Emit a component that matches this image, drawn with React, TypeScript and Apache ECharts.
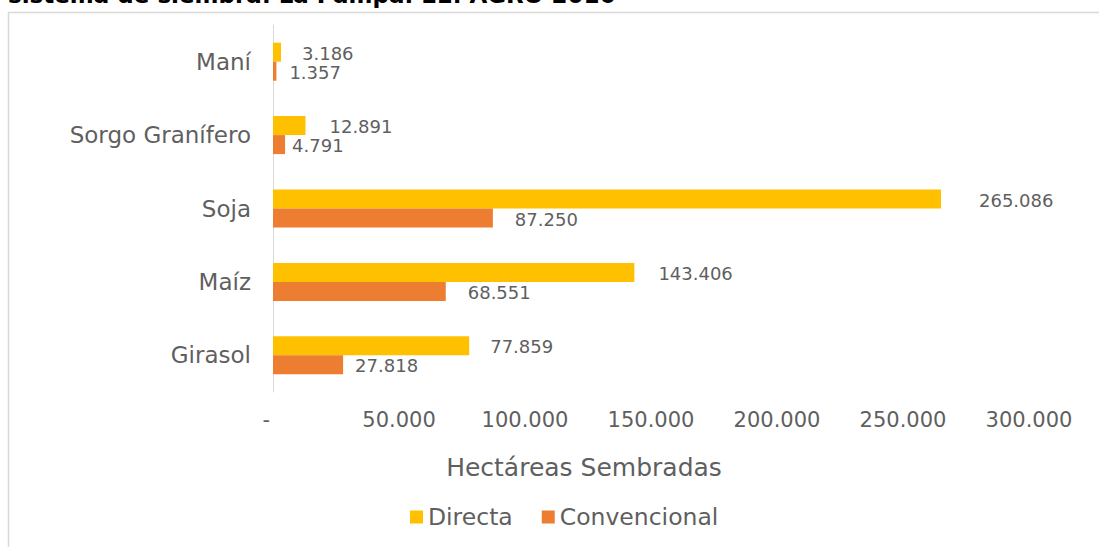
import React, { useEffect, useRef } from 'react';
import * as echarts from 'echarts';

const categories = ['Maní', 'Sorgo Granífero', 'Soja', 'Maíz', 'Girasol'];
const directa = [3186, 12891, 265086, 143406, 77859];
const convencional = [1357, 4791, 87250, 68551, 27818];
const seriesNames = ['Directa', 'Convencional'];
const xMin = 0;
const xMax = 300000;
const xStep = 50000;
const titleText = 'sistema de siembra. La Pampa. EE. AGRO 2016';
const axisTitle = 'Hectáreas Sembradas';

// label gaps (style only)
const directaLabelGap = [21, 24, 38, 24, 21];
const convLabelGap = [13, 7, 22, 22, 12];

const FONT = '"DejaVu Sans", sans-serif';
const GRAY = '#5f5f5f';

function fmt(v: number): string {
  if (v === 0) return '-  ';
  return String(Math.round(v)).replace(/\B(?=(\d{3})+(?!\d))/g, '.');
}

export default function App() {
  const ref = useRef<HTMLDivElement>(null);
  useEffect(() => {
    if (!ref.current) return;
    const chart = echarts.init(ref.current, undefined, { renderer: 'svg' });
    const mk = (vals: number[], gaps: number[]) =>
      vals.map((v, i) => ({ value: v, label: { distance: gaps[i] } }));
    chart.setOption({
      animation: false,
      backgroundColor: '#ffffff',
      grid: { left: 273, right: 70, top: 25, bottom: 155, containLabel: false },
      legend: {
        data: seriesNames,
        left: 410,
        top: 505,
        padding: 0,
        itemWidth: 13,
        itemHeight: 13,
        itemGap: 29,
        icon: 'rect',
        textStyle: { color: GRAY, fontSize: 23.5, fontFamily: FONT },
      },
      xAxis: {
        type: 'value',
        min: xMin,
        max: xMax,
        interval: xStep,
        axisLine: { show: false },
        axisTick: { show: false },
        splitLine: { show: false },
        axisLabel: {
          color: GRAY,
          fontSize: 21,
          fontFamily: FONT,
          margin: 17,
          formatter: (v: number) => fmt(v),
        },
      },
      yAxis: {
        type: 'category',
        data: categories,
        inverse: true,
        axisLine: { show: true, lineStyle: { color: '#D9D9D9', width: 1 } },
        axisTick: { show: false },
        axisLabel: { color: GRAY, fontSize: 23, fontFamily: FONT, margin: 22 },
      },
      series: [
        {
          name: seriesNames[0],
          type: 'bar',
          data: mk(directa, directaLabelGap),
          barWidth: 19,
          barGap: '0%',
          itemStyle: { color: '#FFC000' },
          label: {
            show: true,
            position: 'right',
            color: GRAY,
            fontSize: 18,
            fontFamily: FONT,
            offset: [0, 1],
            formatter: (p: any) => fmt(p.value),
          },
        },
        {
          name: seriesNames[1],
          type: 'bar',
          data: mk(convencional, convLabelGap),
          barWidth: 19,
          barGap: '0%',
          itemStyle: { color: '#ED7D31' },
          label: {
            show: true,
            position: 'right',
            color: GRAY,
            fontSize: 18,
            fontFamily: FONT,
            offset: [0, 1],
            formatter: (p: any) => fmt(p.value),
          },
        },
      ],
      graphic: [
        {
          type: 'rect',
          shape: { x: 8.5, y: 12.5, width: 1200, height: 700 },
          style: { fill: 'none', stroke: '#D9D9D9', lineWidth: 1.5 },
          silent: true,
        },
        {
          type: 'text',
          x: 8,
          y: 6,
          style: {
            text: titleText,
            fill: '#000000',
            fontSize: 23,
            fontWeight: 'bold',
            fontFamily: FONT,
            verticalAlign: 'bottom',
            align: 'left',
          },
        },
        {
          type: 'text',
          x: 584,
          y: 467,
          style: {
            text: axisTitle,
            fill: GRAY,
            fontSize: 25,
            fontFamily: FONT,
            align: 'center',
            verticalAlign: 'middle',
          },
        },
      ],
    });
    return () => chart.dispose();
  }, []);
  return (
    <div
      ref={ref}
      style={{ position: 'absolute', left: 0, top: 0, width: 1099, height: 547 }}
    />
  );
}
